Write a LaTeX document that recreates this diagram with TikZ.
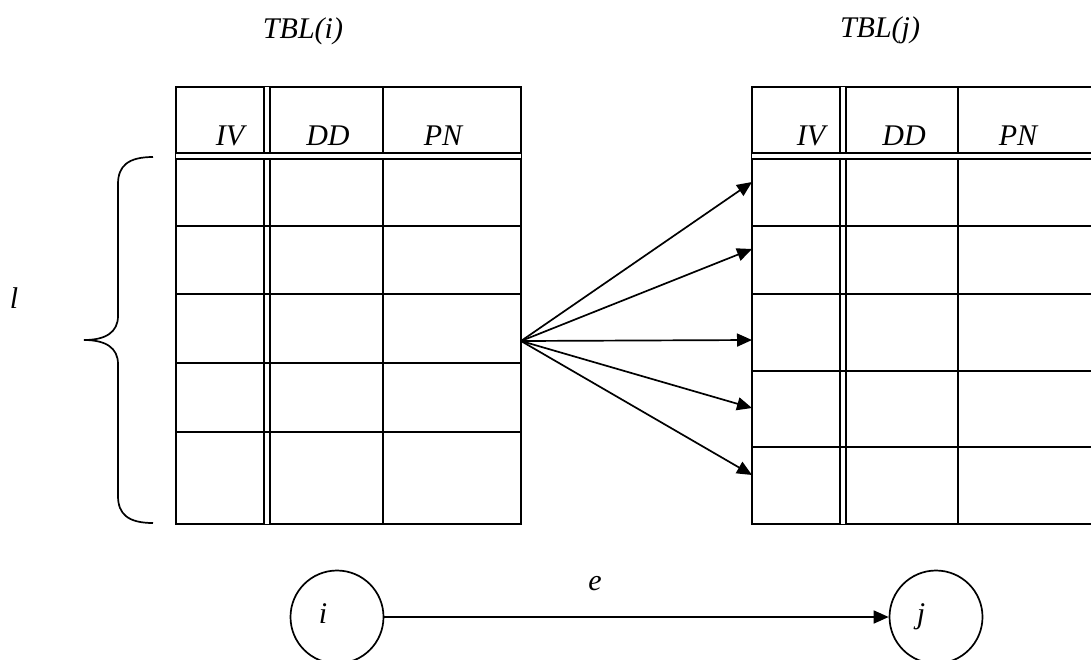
\documentclass[tikz,border=0pt]{standalone}
\usepackage{fontspec}
\setmainfont{Liberation Serif}
\usetikzlibrary{arrows.meta}

\begin{document}
\begin{tikzpicture}[x=0.5pt, y=-0.5pt, line width=0.85pt,
    every node/.style={font=\fontsize{15}{17}\selectfont\itshape, inner sep=0pt},
    dbl/.style={double, line width=1pt, double distance=1.6pt},
    arrow/.style={-{Triangle[length=7.5pt, width=6.5pt]}},
    vertex/.style={circle, draw, minimum size=46.5pt}]
  \path [use as bounding box, clip] (0,0) rectangle (1091,659);

  % table of vertex i
  \node [anchor=base] (tbl i) at (303,38) {TBL(i)};
  \draw (176,87) rectangle (521,524);
  \draw (383,87) -- (383,524);
  \draw [dbl] (267,87) -- (267,524);
  \draw [dbl] (176,156) -- (521,156);
  \foreach \y in {226,294,363,432}
    \draw (176,\y) -- (521,\y);
  \node [anchor=base] (iv i) at (230,145) {IV};
  \node [anchor=base] (dd i) at (328,145) {DD};
  \node [anchor=base] (pn i) at (443,145) {PN};

  % table of vertex j
  \node [anchor=base] (tbl j) at (880,37) {TBL(j)};
  \draw (752,87) rectangle (1097,524);
  \draw (958,87) -- (958,524);
  \draw [dbl] (843,87) -- (843,524);
  \draw [dbl] (752,156) -- (1097,156);
  \foreach \y in {226,294,371,447}
    \draw (752,\y) -- (1097,\y);
  \node [anchor=base] (iv j) at (811,145) {IV};
  \node [anchor=base] (dd j) at (904,145) {DD};
  \node [anchor=base] (pn j) at (1018,145) {PN};

  % brace over the l rows
  \draw (153,157) .. controls (128,157) and (118,166) .. (118,184)
    -- (118,316) .. controls (118,332) and (106,340) .. (84,340)
    .. controls (106,340) and (118,348) .. (118,364)
    -- (118,496) .. controls (118,514) and (128,523) .. (153,523);
  \node [anchor=base] (l) at (14,308) {l};

  % one row of i points to several rows of j
  \coordinate (src) at (521,341);
  \foreach \y [count=\k] in {182,249,340,408,475}
    \coordinate (dst \k) at (752,\y);
  \foreach \k in {1,...,5}
    \draw [arrow] (src) -- (dst \k);

  % the edge e from i to j
  \node [vertex] (i) at (337,617) {};
  \node [anchor=base] (i name) at (323,623) {i};
  \node [vertex] (j) at (936,617) {};
  \node [anchor=base] (j name) at (921,623) {j};
  \draw [arrow] (i) -- (j);
  \node [anchor=base] (e) at (595,590) {e};
\end{tikzpicture}
\end{document}
